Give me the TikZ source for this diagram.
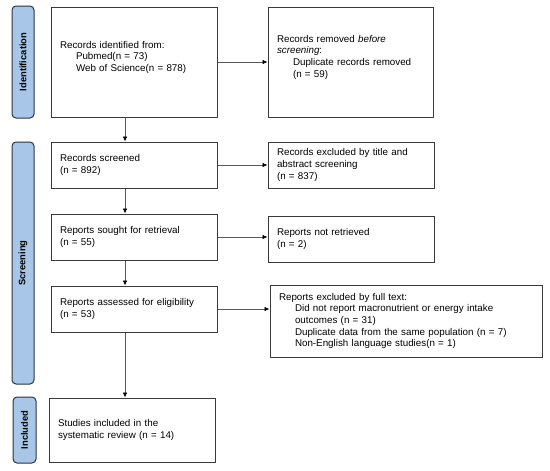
\documentclass[tikz,border=0pt]{standalone}
\usepackage{fontspec}
\setmainfont{Liberation Sans}
\usetikzlibrary{arrows.meta}
\definecolor{barfill}{HTML}{A7C6E8}
\definecolor{barline}{HTML}{2A3440}
\definecolor{boxline}{HTML}{3A3A3A}
\tikzset{
  box/.style={draw=boxline, line width=1pt, rectangle, inner xsep=9pt, inner ysep=0pt,
    align=left, font=\fontsize{9.8}{11.7}\selectfont, anchor=center},
  bar/.style={draw=barline, fill=barfill, line width=1pt, rounded corners=4pt, anchor=center,
    inner sep=0pt},
  bartext/.style={rotate=90, font=\bfseries\fontsize{9.4}{10}\selectfont},
  arr/.style={draw=black!65, line width=0.7pt, -{Latex[length=5pt,width=4.5pt,color=black]}}
}
\newcommand{\ind}{\hspace*{16pt}}
\begin{document}
\begin{tikzpicture}[x=1pt,y=-1pt]
\useasboundingbox (0,0) rectangle (550,471);
% side bars
\node[bar, minimum width=22pt, minimum height=112pt] (bid) at (23,62) {};
\node[bartext] (tid) at (bid.center) {Identification};
\node[bar, minimum width=22pt, minimum height=242pt] (bsc) at (23,263) {};
\node[bartext] (tsc) at (bsc.center) {Screening};
\node[bar, minimum width=23pt, minimum height=66pt] (bin) at (24.5,430) {};
\node[bartext] (tin) at (bin.center) {Included};
% boxes
\node[box, minimum width=166pt, minimum height=110pt, text width=148pt] (b1) at (134,62)
  {Records identified from:\\ \ind Pubmed(n = 73)\\ \ind Web of Science(n = 878)\\ \mbox{}};
\node[box, minimum width=165pt, minimum height=110pt, text width=147pt] (b2) at (350.5,62)
  {Records removed \textit{before}\\ \textit{screening}:\\ \ind Duplicate records removed\\ \ind (n = 59)\\ \mbox{}};
\node[box, minimum width=166pt, minimum height=46pt, text width=148pt] (b3) at (134,165)
  {Records screened\\ (n = 892)};
\node[box, minimum width=166pt, minimum height=46pt, text width=148pt] (b4) at (351,165)
  {Records excluded by title and\\ abstract screening\\ (n = 837)};
\node[box, minimum width=166pt, minimum height=46pt, text width=148pt] (b5) at (134,237)
  {Reports sought for retrieval\\ (n = 55)};
\node[box, minimum width=166pt, minimum height=46pt, text width=148pt] (b6) at (351,239)
  {Reports not retrieved\\ (n = 2)};
\node[box, minimum width=166pt, minimum height=46pt, text width=148pt] (b7) at (134,309)
  {Reports assessed for eligibility\\ (n = 53)};
\node[box, minimum width=272pt, minimum height=72pt, text width=254pt] (b8) at (406,321)
  {Reports excluded by full text:\\ \ind Did not report macronutrient or energy intake\\ \ind outcomes (n = 31)\\ \ind Duplicate data from the same population (n = 7)\\ \ind Non-English language studies(n = 1)};
\node[box, minimum width=166pt, minimum height=64pt, text width=148pt] (b9) at (132,430)
  {Studies included in the\\ systematic review (n = 14)};
% arrows
\draw[arr] ([xshift=-9pt]b1.south) -- ([xshift=-9pt]b3.north);
\draw[arr] ([xshift=-9pt]b3.south) -- ([xshift=-9pt]b5.north);
\draw[arr] ([xshift=-9pt]b5.south) -- ([xshift=-9pt]b7.north);
\draw[arr] ([xshift=-9pt]b7.south) -- ([xshift=-9pt]b7.south |- b9.north);
\draw[arr] (b1.east) -- (b2.west);
\draw[arr] (b3.east) -- (b4.west);
\draw[arr] (b5.east) -- (b5.east -| b6.west);
\draw[arr] (b7.east) -- (b7.east -| b8.west);
\end{tikzpicture}
\end{document}
